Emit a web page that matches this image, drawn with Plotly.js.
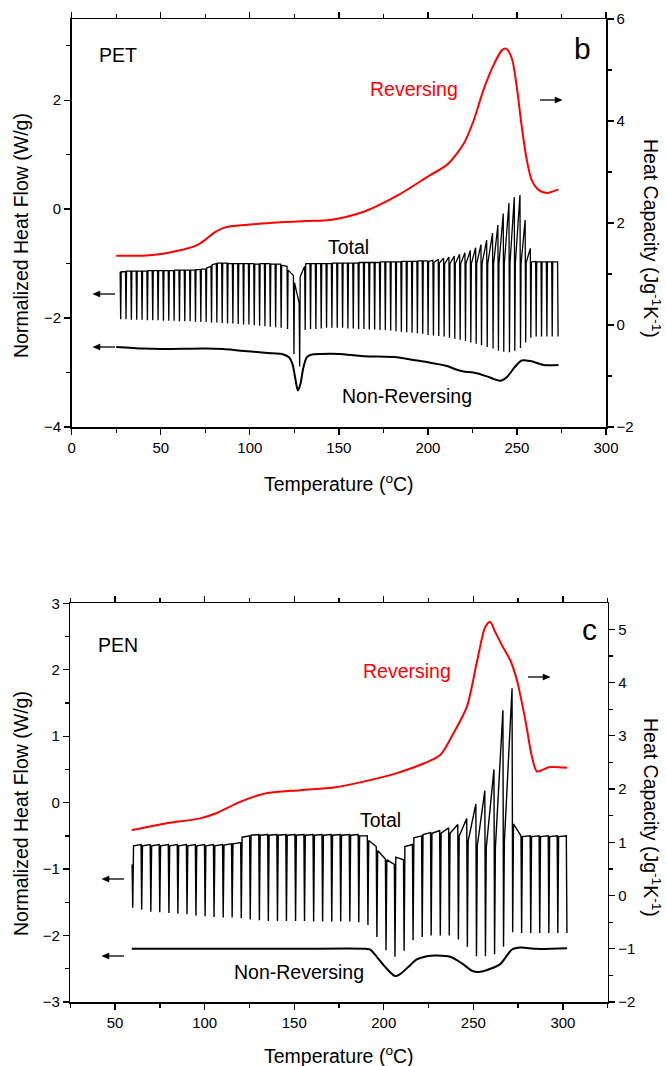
<!DOCTYPE html>
<html>
<head>
<meta charset="utf-8">
<script src="https://cdn.plot.ly/plotly-3.0.1.min.js"></script>
<style>html,body{margin:0;padding:0;background:#fff;}#chart{width:667px;height:1066px;}</style>
</head>
<body>
<div id="chart"></div>
<script>
// ---------------- PET (panel b) ----------------
// Total heat flow: one entry per modulation cycle (cycle temperature, top value, bottom of spike, value after spike)
const petCycleT = [27.2, 30.2, 33.2, 36.2, 39.2, 42.2, 45.2, 48.2, 51.2, 54.2,
  57.2, 60.2, 63.2, 66.2, 69.2, 72.2, 75.2, 78.2, 81.2, 84.2,
  87.2, 90.2, 93.2, 96.2, 99.2, 102.2, 105.2, 108.2, 111.2, 114.2,
  117.3, 120.9, 124.5, 127.7, 130.8, 133.8, 136.8, 139.8, 142.8, 145.8,
  148.8, 151.8, 154.8, 157.8, 160.8, 163.8, 166.8, 169.8, 172.8, 175.8,
  178.8, 181.8, 184.8, 187.8, 190.8, 193.8, 196.8, 199.8, 202.8, 205.8,
  208.8, 211.8, 214.8, 217.8, 220.8, 223.8, 226.8, 229.8, 233.0, 236.3,
  239.3, 242.3, 245.5, 248.5, 251.7, 254.6, 257.5, 260.5, 263.5, 266.5,
  269.5, 272.8];
const petTotalTop = [-1.15, -1.15, -1.14, -1.14, -1.14, -1.14, -1.13, -1.13, -1.13, -1.13,
  -1.13, -1.12, -1.12, -1.12, -1.12, -1.11, -1.10, -1.05, -1.00, -0.99,
  -0.99, -1.00, -1.00, -1.00, -1.00, -1.00, -1.01, -1.00, -1.00, -1.01,
  -1.01, -1.05, -1.22, -1.72, -1.05, -1.00, -1.00, -1.00, -1.00, -1.00,
  -0.99, -0.99, -0.99, -0.99, -0.99, -0.98, -0.98, -0.98, -0.98, -0.97,
  -0.97, -0.97, -0.97, -0.96, -0.96, -0.96, -0.95, -0.95, -0.94, -0.92,
  -0.90, -0.88, -0.86, -0.83, -0.80, -0.76, -0.71, -0.65, -0.57, -0.44,
  -0.29, -0.08, 0.11, 0.22, 0.26, -0.20, -0.72, -0.96, -0.97, -0.97,
  -0.97, -0.97];
const petTotalBottom = [-2.02, -2.02, -2.03, -2.03, -2.03, -2.04, -2.04, -2.04, -2.05, -2.05,
  -2.05, -2.06, -2.06, -2.06, -2.07, -2.07, -2.07, -2.08, -2.08, -2.09,
  -2.10, -2.10, -2.11, -2.12, -2.12, -2.13, -2.14, -2.15, -2.16, -2.17,
  -2.18, -2.20, -2.66, -2.89, -2.22, -2.20, -2.20, -2.19, -2.18, -2.18,
  -2.18, -2.18, -2.19, -2.19, -2.20, -2.20, -2.21, -2.21, -2.22, -2.22,
  -2.23, -2.24, -2.25, -2.26, -2.27, -2.28, -2.29, -2.31, -2.32, -2.33,
  -2.34, -2.36, -2.38, -2.40, -2.42, -2.45, -2.47, -2.50, -2.53, -2.56,
  -2.60, -2.62, -2.63, -2.60, -2.55, -2.45, -2.36, -2.34, -2.34, -2.34,
  -2.34, -2.34];
const petTotalAfter = [-1.15, -1.14, -1.14, -1.14, -1.14, -1.13, -1.13, -1.13, -1.13, -1.13,
  -1.12, -1.12, -1.12, -1.12, -1.11, -1.10, -1.08, -1.02, -0.99, -0.99,
  -1.00, -1.00, -1.00, -1.00, -1.00, -1.01, -1.00, -1.00, -1.01, -1.01,
  -1.03, -1.12, -1.35, -1.24, -1.00, -1.00, -1.00, -1.00, -1.00, -0.99,
  -0.99, -0.99, -0.99, -0.99, -0.98, -0.98, -0.98, -0.98, -0.97, -0.97,
  -0.97, -0.97, -0.96, -0.96, -0.96, -0.95, -0.95, -0.96, -0.98, -0.99,
  -1.00, -1.00, -1.00, -1.00, -1.00, -1.00, -1.00, -1.00, -1.00, -1.00,
  -1.00, -1.00, -1.00, -1.00, -1.00, -0.98, -0.97, -0.97, -0.97, -0.97,
  -0.97, -0.97];
// Reversing heat capacity (right axis)
const petRevT = [25, 40, 50, 60, 65, 70, 75, 80, 85, 90, 100, 115, 132, 145, 164, 182.5, 201.3, 210.7, 220, 225.6,
  231.2, 236.9, 241.6, 244, 247.1, 249.9, 252.7, 255.5, 258.3, 262.1, 266.7, 273.3];
const petRevY = [1.36, 1.36, 1.39, 1.46, 1.50, 1.56, 1.67, 1.81, 1.90, 1.94, 1.97, 2.01, 2.04, 2.06, 2.22, 2.53, 2.94, 3.14, 3.55, 4.00,
  4.61, 5.10, 5.39, 5.42, 5.23, 4.67, 3.89, 3.24, 2.84, 2.65, 2.59, 2.66];
// Non-reversing heat flow (left axis)
const petNrT = [25, 40, 50, 75, 85, 95, 110, 118, 122, 124, 125.5, 127, 128.5, 130, 132, 135, 140, 150, 164, 182.5,
  192, 201.3, 210.7, 216.3, 220, 225.6, 233.1, 240.6, 244.4, 249, 252.7, 257.5, 264.9, 273.3];
const petNrY = [-2.53, -2.56, -2.57, -2.56, -2.57, -2.60, -2.64, -2.66, -2.72, -2.85, -3.10, -3.33, -3.20, -2.92, -2.72, -2.67, -2.66, -2.66, -2.70, -2.72,
  -2.77, -2.82, -2.88, -2.95, -2.98, -3.00, -3.07, -3.15, -3.08, -2.89, -2.78, -2.79, -2.86, -2.86];

// ---------------- PEN (panel c) ----------------
const penCycleT = [59.5, 64.5, 69.6, 74.6, 79.7, 84.7, 89.8, 94.8, 99.9, 104.9,
  110.0, 115.0, 120.1, 125.1, 130.2, 135.2, 140.3, 145.3, 150.4, 155.4,
  160.5, 165.5, 170.6, 175.6, 180.7, 185.7, 190.8, 195.8, 200.9, 205.9,
  211.0, 216.0, 221.1, 226.1, 231.2, 236.2, 241.3, 246.3, 251.4, 256.4,
  261.5, 266.5, 271.6, 276.6, 281.7, 286.7, 291.8, 296.8, 301.9];
const penTotalTop = [-0.93, -0.63, -0.63, -0.63, -0.63, -0.63, -0.63, -0.63, -0.63, -0.63,
  -0.63, -0.62, -0.60, -0.50, -0.48, -0.48, -0.48, -0.48, -0.48, -0.48,
  -0.48, -0.48, -0.48, -0.48, -0.48, -0.48, -0.50, -0.66, -0.85, -0.93,
  -0.86, -0.63, -0.50, -0.45, -0.42, -0.38, -0.33, -0.24, -0.02, 0.18,
  0.50, 1.39, 1.72, -0.50, -0.50, -0.50, -0.50, -0.50, -0.50];
const penTotalBottom = [-1.58, -1.61, -1.64, -1.65, -1.66, -1.67, -1.68, -1.70, -1.71, -1.72,
  -1.73, -1.73, -1.74, -1.76, -1.77, -1.78, -1.78, -1.78, -1.78, -1.78,
  -1.79, -1.79, -1.79, -1.79, -1.79, -1.80, -1.84, -2.02, -2.22, -2.32,
  -2.23, -2.07, -2.02, -2.00, -2.00, -2.00, -2.06, -2.17, -2.31, -2.31,
  -2.28, -2.17, -1.95, -1.96, -1.96, -1.96, -1.96, -1.96, -1.96];
const penTotalAfter = [-0.65, -0.65, -0.65, -0.65, -0.65, -0.65, -0.65, -0.65, -0.65, -0.65,
  -0.64, -0.62, -0.52, -0.49, -0.49, -0.49, -0.49, -0.49, -0.49, -0.49,
  -0.49, -0.49, -0.49, -0.49, -0.49, -0.50, -0.57, -0.72, -0.86, -0.82,
  -0.66, -0.53, -0.48, -0.46, -0.46, -0.46, -0.50, -0.58, -0.65, -0.68,
  -0.68, -0.60, -0.32, -0.51, -0.51, -0.51, -0.51, -0.51, -0.51];
const penRevT = [59.3, 78.9, 97.5, 106.8, 119.8, 132.8, 153.3, 172, 188.7, 207.3, 222.2, 231.5, 238.9, 246.4, 252,
  256.7, 259.4, 262.2, 266, 270.6, 274.3, 279, 282.7, 285.5, 289.2, 292, 302.3];
const penRevY = [1.23, 1.36, 1.45, 1.55, 1.76, 1.91, 1.98, 2.03, 2.14, 2.30, 2.48, 2.64, 3.05, 3.55, 4.39,
  5.05, 5.14, 4.95, 4.70, 4.42, 4.05, 3.30, 2.61, 2.33, 2.37, 2.41, 2.40];
const penNrT = [59.3, 100, 150, 190, 192.4, 196.1, 200.7, 206.3, 209.1, 213.8, 218.4, 224, 229.7, 237.1, 243.7,
  249.2, 252.9, 259.5, 265, 268.8, 271.6, 276.2, 285.5, 302.3];
const penNrY = [-2.20, -2.20, -2.20, -2.20, -2.21, -2.32, -2.47, -2.61, -2.58, -2.47, -2.36, -2.31, -2.30, -2.32, -2.42,
  -2.53, -2.55, -2.50, -2.43, -2.30, -2.21, -2.18, -2.20, -2.19];

// ---------------- build ----------------
function cycles(T, top, bot, after, dDrop, dAfter) {
  const x = [], y = [];
  for (let i = 0; i < T.length; i++) {
    x.push(T[i]); y.push(top[i]);
    x.push(T[i] + dDrop); y.push(bot[i]);
    if (i < T.length - 1) { x.push(T[i] + dAfter); y.push(after[i]); }
  }
  return {x, y};
}
const petTot = cycles(petCycleT, petTotalTop, petTotalBottom, petTotalAfter, 0.3, 0.6);
const penTot = cycles(penCycleT, penTotalTop, penTotalBottom, penTotalAfter, 0.35, 0.8);

const RED = '#ff0000';
const FONT = 'Liberation Sans, Arial, Helvetica, sans-serif';

const traces = [
  {x: petTot.x, y: petTot.y, xaxis: 'x', yaxis: 'y', mode: 'lines', line: {color: 'black', width: 1.3}},
  {x: petNrT, y: petNrY, xaxis: 'x', yaxis: 'y', mode: 'lines', line: {color: 'black', width: 2, shape: 'spline', smoothing: 0.8}},
  {x: petRevT, y: petRevY, xaxis: 'x', yaxis: 'y2', mode: 'lines', line: {color: RED, width: 2, shape: 'spline', smoothing: 0.8}},
  {x: penTot.x, y: penTot.y, xaxis: 'x2', yaxis: 'y3', mode: 'lines', line: {color: 'black', width: 1.4}},
  {x: penNrT, y: penNrY, xaxis: 'x2', yaxis: 'y3', mode: 'lines', line: {color: 'black', width: 2, shape: 'spline', smoothing: 0.8}},
  {x: penRevT, y: penRevY, xaxis: 'x2', yaxis: 'y4', mode: 'lines', line: {color: RED, width: 2, shape: 'spline', smoothing: 0.8}}
];

// pixel -> paper helpers (plot area: x 70..608, y 19..1002)
const L = 70, R = 59, T0 = 19, B = 64, W = 667, H = 1066;
const PW = W - L - R, PH = H - T0 - B;
const px = v => (v - L) / PW;
const py = v => (H - B - v) / PH;

const tickFont = {family: FONT, size: 15, color: 'black'};
function xAxis(domain, anchor, range, minorStart) {
  return {domain, anchor, range, showline: true, linecolor: 'black', linewidth: 1.5, mirror: 'ticks',
    ticks: 'outside', ticklen: 6, tickwidth: 1.3, tickcolor: 'black', dtick: 50, tick0: 0,
    minor: {ticks: 'outside', ticklen: 4, tickwidth: 1.3, tickcolor: 'black', dtick: 25, tick0: minorStart, showgrid: false},
    showgrid: false, zeroline: false, tickfont: tickFont};
}
function yAxis(domain, anchor, range, dtick, minorDtick, side, overlay) {
  const a = {domain, anchor, range, showline: true, linecolor: 'black', linewidth: 1.5,
    ticks: 'outside', ticklen: 6, tickwidth: 1.3, tickcolor: 'black', dtick, tick0: 0,
    minor: {ticks: 'outside', ticklen: 4, tickwidth: 1.3, tickcolor: 'black', dtick: minorDtick, tick0: 0, showgrid: false},
    showgrid: false, zeroline: false, tickfont: tickFont, side};
  if (overlay) { a.overlaying = overlay; delete a.domain; }
  return a;
}

function lab(text, x, y, size, color, angle) {
  return {text, x: px(x), y: py(y), xref: 'paper', yref: 'paper', showarrow: false,
    xanchor: 'center', yanchor: 'middle', textangle: angle || 0,
    font: {family: FONT, size, color: color || 'black'}};
}
// small axis-pointer arrows drawn as shapes (pixel positions converted to paper)
function arrowShapes(hx, hy, tx) {
  const dir = Math.sign(hx - tx), hl = 7, hw = 3;
  const bx = hx - dir * hl;
  return [
    {type: 'line', xref: 'paper', yref: 'paper', x0: px(tx), y0: py(hy), x1: px(bx), y1: py(hy),
      line: {color: 'black', width: 1.3}},
    {type: 'path', xref: 'paper', yref: 'paper', fillcolor: 'black', line: {color: 'black', width: 0.5},
      path: `M ${px(hx)} ${py(hy)} L ${px(bx)} ${py(hy - hw)} L ${px(bx)} ${py(hy + hw)} Z`}
  ];
}

const LS = 19.5;
const annotations = [
  // panel b
  lab('PET', 118, 55, LS), lab('b', 582, 49, 30),
  lab('Reversing', 414, 89, LS, RED), lab('Total', 348, 247, LS), lab('Non-Reversing', 407, 396, LS),
  lab('Normalized Heat Flow (W/g)', 21, 236, LS, 'black', -90),
  lab('Heat Capacity (Jg<sup>-1</sup>K<sup>-1</sup>)', 652, 238, LS, 'black', 90),
  lab('Temperature (<sup>o</sup>C)', 339, 483, LS),
  // panel c
  lab('PEN', 118, 645, LS), lab('c', 589, 629, 30),
  lab('Reversing', 407, 671, LS, RED), lab('Total', 380, 820, LS), lab('Non-Reversing', 299, 972, LS),
  lab('Normalized Heat Flow (W/g)', 21, 814, LS, 'black', -90),
  lab('Heat Capacity (Jg<sup>-1</sup>K<sup>-1</sup>)', 652, 817, LS, 'black', 90),
  lab('Temperature (<sup>o</sup>C)', 339, 1055, LS)
];
const shapes = [].concat(
  arrowShapes(562, 100, 540), arrowShapes(93, 294, 115), arrowShapes(93, 347, 115),
  arrowShapes(550, 677, 528), arrowShapes(102, 879, 124), arrowShapes(102, 956, 124)
);

const layout = {
  width: W, height: H, margin: {l: L, r: R, t: T0, b: B, pad: 0},
  paper_bgcolor: 'white', plot_bgcolor: 'white', showlegend: false,
  font: {family: FONT, color: 'black'},
  xaxis: xAxis([px(71.7), px(606)], 'y', [0, 300], 25),
  yaxis: yAxis([py(427), 1], 'x', [-4, 3.49], 2, 1, 'left'),
  yaxis2: yAxis(null, 'x', [-2, 6], 2, 1, 'right', 'y'),
  xaxis2: xAxis([px(70.3), px(607.7)], 'y3', [25, 325], 25),
  yaxis3: yAxis([0, py(603.3)], 'x2', [-3, 3], 1, 0.5, 'left'),
  yaxis4: yAxis(null, 'x2', [-2, 5.49], 1, 0.5, 'right', 'y3'),
  annotations, shapes
};

Plotly.newPlot('chart', traces, layout, {displayModeBar: false, staticPlot: true});
</script>
</body>
</html>
